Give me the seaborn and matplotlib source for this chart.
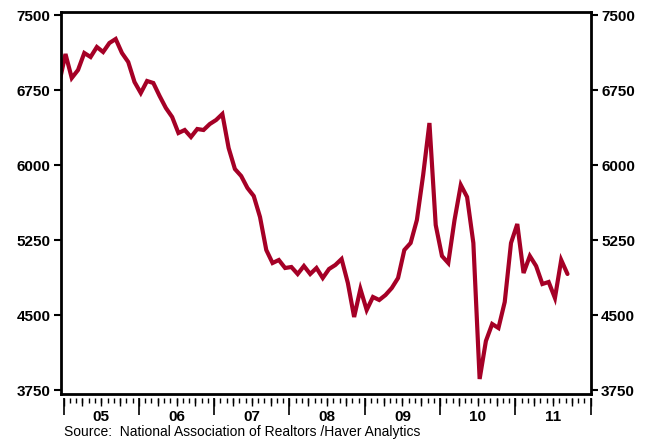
import numpy as np
import pandas as pd
import matplotlib
matplotlib.use('Agg')
import matplotlib.pyplot as plt
import matplotlib.transforms as mtransforms
from matplotlib.ticker import MultipleLocator, FixedLocator, NullFormatter
import seaborn as sns

# Existing home sales, thousands (SAAR), Dec 2004 - Sep 2011
months = pd.period_range('2004-12', '2011-09', freq='M')
sales = [6820,
         7110, 6870, 6950, 7120, 7080, 7180, 7130, 7220, 7260, 7120, 7030, 6830,
         6720, 6840, 6820, 6690, 6570, 6480, 6320, 6350, 6280, 6360, 6350, 6410,
         6450, 6510, 6170, 5960, 5890, 5770, 5690, 5480, 5150, 5020, 5050, 4970,
         4980, 4910, 4990, 4910, 4970, 4870, 4960, 5000, 5060, 4820, 4480, 4760,
         4550, 4680, 4650, 4700, 4770, 4870, 5150, 5220, 5450, 5900, 6420, 5400,
         5090, 5020, 5450, 5800, 5680, 5220, 3860, 4240, 4410, 4370, 4630, 5220,
         5410, 4920, 5090, 4990, 4810, 4830, 4670, 5050, 4910]
year_labels = ['05', '06', '07', '08', '09', '10', '11']
y_ticks = [3750, 4500, 5250, 6000, 6750, 7500]
source = 'Source:  National Association of Realtors /Haver Analytics'

df = pd.DataFrame({'month': months, 'sales': sales})
df['x'] = df['month'].dt.year + (df['month'].dt.month - 1 + 0.3) / 12

sns.set_style('ticks')
plt.rcParams['font.family'] = ['Liberation Sans', 'DejaVu Sans']
plt.rcParams['text.color'] = 'black'

fig = plt.figure(figsize=(6.5, 4.43), dpi=100)
ax = fig.add_axes([61 / 650, 49 / 443, 529.7 / 650, 382.5 / 443])

sns.lineplot(data=df, x='x', y='sales', ax=ax, color='#A50026', linewidth=3.0,
             solid_joinstyle='miter')

ax.set_xlim(2004.9655, 2012.0)
ax.set_ylim(3710, 7535)
ax.set_xlabel('')
ax.set_ylabel('')

ax.set_yticks(y_ticks)
ax.set_yticklabels([str(v) for v in y_ticks], fontweight='bold', fontsize=11)
ax.tick_params(axis='y', which='major', length=5, width=1.5, direction='out',
               left=True, right=True, labelleft=True, labelright=True, pad=2.5,
               colors='black')

# x ticks sit a little below the frame, as in the original
ax.set_xticks([])
gap = -3.5 / 382.5
sec = ax.secondary_xaxis(gap)
sec.xaxis.set_major_locator(FixedLocator(np.arange(2005, 2013)))
sec.xaxis.set_minor_locator(MultipleLocator(1 / 12))
sec.xaxis.set_major_formatter(NullFormatter())
sec.tick_params(axis='x', which='major', length=12, width=1.2, direction='out', colors='black')
sec.tick_params(axis='x', which='minor', length=3.5, width=1.0, direction='out', colors='black')
sec.spines['bottom'].set_visible(False)

sec_q = ax.secondary_xaxis(gap)
sec_q.xaxis.set_major_locator(MultipleLocator(0.25))
sec_q.xaxis.set_minor_locator(FixedLocator([]))
sec_q.xaxis.set_major_formatter(NullFormatter())
sec_q.tick_params(axis='x', which='major', length=5.5, width=1.0, direction='out', colors='black')
sec_q.spines['bottom'].set_visible(False)

for s in ax.spines.values():
    s.set_linewidth(2.0)
    s.set_color('black')

trans = mtransforms.blended_transform_factory(ax.transData, fig.transFigure)
for i, lab in enumerate(year_labels):
    ax.text(2005.5 + i, 1 - 417 / 443, lab, transform=trans, ha='center',
            va='center', fontweight='bold', fontsize=11)

fig.text(64 / 650, 1 - 432 / 443, source, ha='left', va='center', fontsize=10)

fig.savefig('out.png', dpi=100)
